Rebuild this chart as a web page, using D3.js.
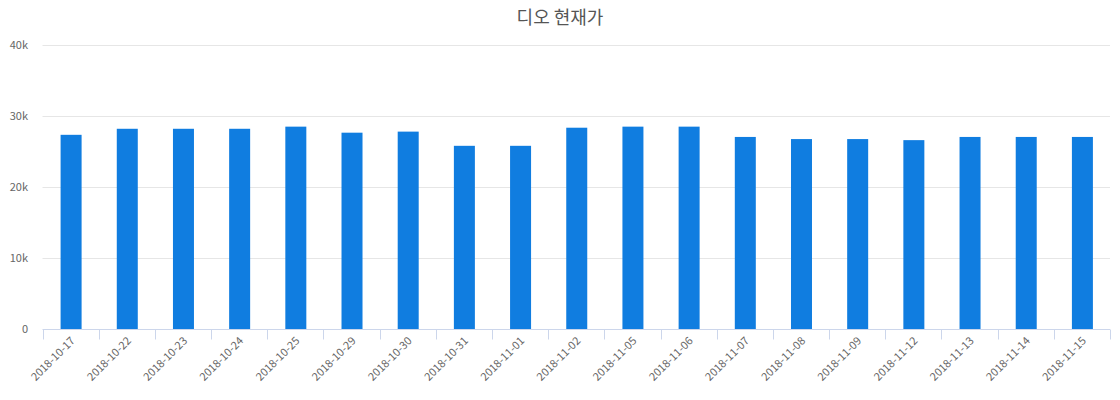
<!DOCTYPE html>
<html>
<head>
  <meta charset="utf-8">
  <title>디오 현재가</title>
  <script src="https://cdn.jsdelivr.net/npm/d3@7"></script>
  <style>
    body { margin: 0; background: #fff; }
    text { font-family: "Noto Sans CJK KR", "Noto Sans", sans-serif; }
    .grid line { stroke: #e6e6e6; }
    .axis text { fill: #666; font-size: 11px; }
    .title { fill: #555; font-size: 18px; }
  </style>
</head>
<body>
  <svg id="chart"></svg>
  <script>
    var dates = ['2018-10-17', '2018-10-22', '2018-10-23', '2018-10-24', '2018-10-25', '2018-10-29',
      '2018-10-30', '2018-10-31', '2018-11-01', '2018-11-02', '2018-11-05', '2018-11-06',
      '2018-11-07', '2018-11-08', '2018-11-09', '2018-11-12', '2018-11-13', '2018-11-14', '2018-11-15'];
    var prices = [27350, 28200, 28200, 28200, 28500, 27650, 27800, 25800, 25800, 28350,
      28500, 28500, 27050, 26750, 26750, 26600, 27050, 27050, 27050];
    var yTicks = [0, 10000, 20000, 30000, 40000];

    var W = 1120, H = 400;
    var margin = { top: 45, left: 42.5, right: 10, bottom: 71 };

    var svg = d3.select('#chart')
      .attr('width', W)
      .attr('height', H);

    var x = d3.scaleBand()
      .domain(dates)
      .range([margin.left, W - margin.right])
      .paddingInner(0)
      .paddingOuter(0);

    var y = d3.scaleLinear()
      .domain([0, 40000])
      .range([H - margin.bottom, margin.top]);

    // grid
    svg.append('g')
      .attr('class', 'grid')
      .selectAll('line')
      .data(yTicks.slice(1))
      .enter()
      .append('line')
      .attr('x1', margin.left)
      .attr('x2', W - margin.right)
      .attr('y1', d => Math.round(y(d)) + 0.5)
      .attr('y2', d => Math.round(y(d)) + 0.5);

    // y labels
    svg.append('g')
      .attr('class', 'axis')
      .selectAll('text')
      .data(yTicks)
      .enter()
      .append('text')
      .attr('x', 28)
      .attr('y', d => y(d) + 4)
      .attr('text-anchor', 'end')
      .text(d => d === 0 ? '0' : (d / 1000) + 'k');

    // bars
    var bw = 21;
    svg.selectAll('.bar')
      .data(prices)
      .enter()
      .append('rect')
      .attr('class', 'bar')
      .attr('fill', '#107de0')
      .attr('x', (d, i) => x(dates[i]) + x.bandwidth() / 2 - bw / 2 + 0.5)
      .attr('width', bw)
      .attr('y', d => y(d))
      .attr('height', d => y(0) - y(d));

    // x axis
    var y0 = Math.round(y(0)) + 0.5;
    svg.append('line')
      .attr('x1', margin.left)
      .attr('x2', W - margin.right)
      .attr('y1', y0)
      .attr('y2', y0)
      .attr('stroke', '#ccd6eb');

    var bounds = dates.map(d => x(d)).concat([W - margin.right]);
    svg.append('g')
      .selectAll('line')
      .data(bounds)
      .enter()
      .append('line')
      .attr('x1', d => Math.round(d) + 0.5)
      .attr('x2', d => Math.round(d) + 0.5)
      .attr('y1', y0)
      .attr('y2', y0 + 10)
      .attr('stroke', '#ccd6eb');

    svg.append('g')
      .attr('class', 'axis')
      .selectAll('text')
      .data(dates)
      .enter()
      .append('text')
      .attr('text-anchor', 'end')
      .attr('transform', d => 'translate(' + (x(d) + x.bandwidth() / 2 + 5) + ',' + (y0 + 12) + ') rotate(-45)')
      .text(d => d);

    svg.append('text')
      .attr('class', 'title')
      .attr('x', 560)
      .attr('y', 24)
      .attr('text-anchor', 'middle')
      .text('디오 현재가');
  </script>
</body>
</html>
